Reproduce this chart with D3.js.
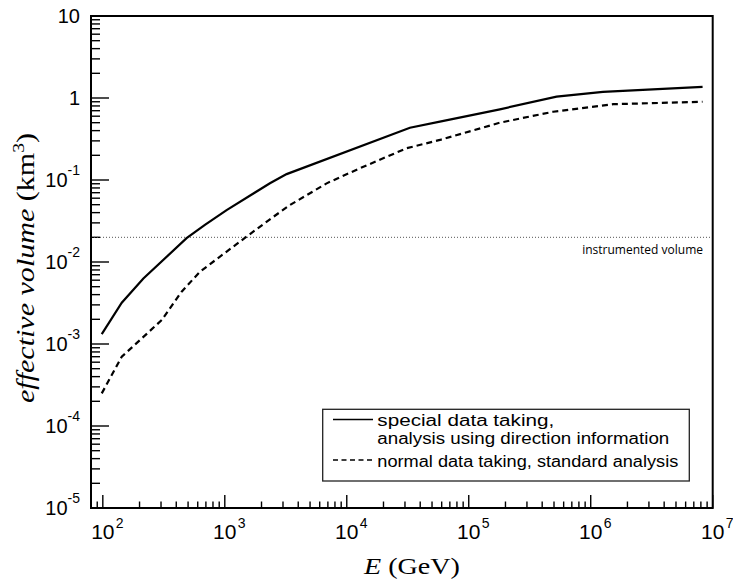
<!DOCTYPE html>
<html><head><meta charset="utf-8">
<script src="https://cdn.jsdelivr.net/npm/d3@7"></script>
<style>body{margin:0;background:#fff}</style>
</head><body><svg id="c" width="733" height="580"></svg>
<script>
// ---- data ----
const energySpecial = [98, 143, 215, 486, 687, 1035, 2345, 3213, 32940, 58000, 180000, 525000, 1260000, 8260000];
const volumeSpecial = [1.32e-3, 3.19e-3, 6.3e-3, 0.0195, 0.0283, 0.043, 0.0912, 0.118, 0.434, 0.514, 0.728, 1.04, 1.19, 1.37];
const energyNormal = [98, 143, 202, 304, 443, 625, 1510, 2345, 3420, 6840, 12820, 30970, 58000, 180000, 492000, 1530000, 8260000];
const volumeNormal = [2.5e-4, 7.0e-4, 1.12e-3, 1.96e-3, 4.35e-3, 7.6e-3, 0.0204, 0.0332, 0.0495, 0.091, 0.139, 0.244, 0.308, 0.5, 0.68, 0.84, 0.90];
const instrumentedVolume = 0.02;
const xDomain = [80, 1e7];
const yDomain = [1e-5, 10];
const xTickExponents = [2, 3, 4, 5, 6, 7];
const yTickExponents = [1, 0, -1, -2, -3, -4, -5];
const legendLines = ["special data taking,", "analysis using direction information", "normal data taking, standard analysis"];
const instrumentedLabel = "instrumented volume";

// ---- layout ----
const L = 91, R = 712.7, T = 16, B = 508;
const legendBaselines = [425.6, 443.6, 467.3];
const legendWidths = [177, 292, 301];
const svg = d3.select("#c");
const x = d3.scaleLog().domain(xDomain).range([L, R]);
const y = d3.scaleLog().domain(yDomain).range([B, T]);
const sans = "'Liberation Sans', Arial, sans-serif";
const serif = "'Liberation Serif', 'Times New Roman', serif";
const myriad = "'Open Sans', sans-serif";

// minor + major ticks
function logTicks(dom) {
  const out = [];
  const lo = Math.floor(Math.log10(dom[0])), hi = Math.ceil(Math.log10(dom[1]));
  for (let e = lo; e <= hi; e++) for (let m = 1; m <= 9; m++) {
    const v = m * Math.pow(10, e);
    if (v >= dom[0] * 0.999 && v <= dom[1] * 1.001) out.push({v, major: m === 1});
  }
  return out;
}
const g = svg.append("g");
g.selectAll("line.yt").data(logTicks(yDomain)).join("line")
  .attr("x1", L).attr("x2", d => L + (d.major ? 18 : 9))
  .attr("y1", d => y(d.v)).attr("y2", d => y(d.v))
  .attr("stroke", "#000").attr("stroke-width", 1.4);
g.selectAll("line.xt").data(logTicks(xDomain)).join("line")
  .attr("y1", B).attr("y2", d => B - (d.major ? 13 : 6.5))
  .attr("x1", d => x(d.v)).attr("x2", d => x(d.v))
  .attr("stroke", "#000").attr("stroke-width", 1.4);

// instrumented volume dotted line
svg.append("line").attr("x1", L).attr("x2", R)
  .attr("y1", y(instrumentedVolume)).attr("y2", y(instrumentedVolume))
  .attr("stroke", "#555").attr("stroke-width", 1).attr("stroke-dasharray", "1,2");
svg.append("text").attr("x", 703).attr("y", y(instrumentedVolume) + 17)
  .attr("text-anchor", "end").attr("font-family", myriad).attr("font-size", 12)
  .text(instrumentedLabel);

// curves
const line = d3.line().x(d => x(d[0])).y(d => y(d[1]));
svg.append("path").datum(energySpecial.map((e, i) => [e, volumeSpecial[i]]))
  .attr("d", line).attr("fill", "none").attr("stroke", "#000").attr("stroke-width", 2.2);
svg.append("path").datum(energyNormal.map((e, i) => [e, volumeNormal[i]]))
  .attr("d", line).attr("fill", "none").attr("stroke", "#000").attr("stroke-width", 2.2)
  .attr("stroke-dasharray", "6,4");

// frame
svg.append("rect").attr("x", L).attr("y", T).attr("width", R - L).attr("height", B - T)
  .attr("fill", "none").attr("stroke", "#000").attr("stroke-width", 2);

// y tick labels
yTickExponents.forEach(e => {
  const t = svg.append("text").attr("x", 80).attr("y", y(Math.pow(10, e)) + 7)
    .attr("text-anchor", "end").attr("font-family", sans).attr("font-size", 20);
  if (e === 0) t.text("1");
  else if (e === 1) t.text("10");
  else {
    t.append("tspan").text("10");
    t.append("tspan").attr("font-size", 14).attr("dy", -12).text(String(e));
  }
});
// x tick labels
xTickExponents.forEach(e => {
  const xv = x(Math.pow(10, e));
  svg.append("text").attr("x", xv).attr("y", 539).attr("text-anchor", "middle")
    .attr("font-family", sans).attr("font-size", 21).text("10");
  svg.append("text").attr("x", xv + 13).attr("y", 528).attr("text-anchor", "start")
    .attr("font-family", sans).attr("font-size", 14).text(String(e));
});

// axis titles
const xt = svg.append("text").attr("x", 412).attr("y", 574).attr("text-anchor", "middle")
  .attr("font-family", serif).attr("font-size", 23)
  .attr("textLength", 96).attr("lengthAdjust", "spacingAndGlyphs");
xt.append("tspan").attr("font-style", "italic").text("E");
xt.append("tspan").text(" (GeV)");

const yt = svg.append("text").attr("transform", "translate(34,268) rotate(-90)")
  .attr("text-anchor", "middle").attr("font-family", serif).attr("font-size", 26)
  .attr("textLength", 270).attr("lengthAdjust", "spacingAndGlyphs");
yt.append("tspan").attr("font-style", "italic").text("effective volume");
yt.append("tspan").text(" (km");
yt.append("tspan").attr("font-size", 17).attr("dy", -10).text("3");
yt.append("tspan").attr("dy", 10).text(")");

// legend
const lg = svg.append("g");
lg.append("rect").attr("x", 322.7).attr("y", 409.3).attr("width", 366.6).attr("height", 71.7)
  .attr("fill", "#fff").attr("stroke", "#222").attr("stroke-width", 1.3);
lg.append("line").attr("x1", 333).attr("x2", 373).attr("y1", 419.5).attr("y2", 419.5)
  .attr("stroke", "#000").attr("stroke-width", 1.6);
lg.append("line").attr("x1", 333).attr("x2", 375).attr("y1", 460).attr("y2", 460)
  .attr("stroke", "#000").attr("stroke-width", 1.6).attr("stroke-dasharray", "5,3.5");
legendLines.forEach((s, i) => lg.append("text").attr("x", 377.3).attr("y", legendBaselines[i])
  .attr("font-family", sans).attr("font-size", 15.8)
  .attr("textLength", legendWidths[i]).attr("lengthAdjust", "spacingAndGlyphs").text(s));
</script></body></html>
